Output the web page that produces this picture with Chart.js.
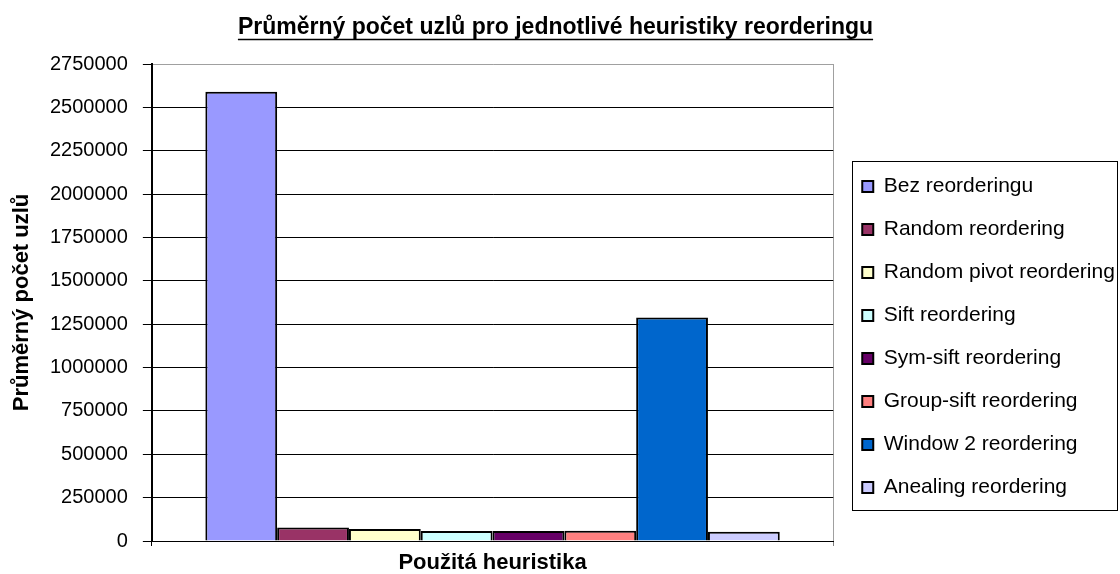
<!DOCTYPE html>
<html lang="cs">
<head>
<meta charset="utf-8">
<title>Průměrný počet uzlů</title>
<script src="https://cdn.jsdelivr.net/npm/chart.js@4.4.1/dist/chart.umd.min.js"></script>
<style>
    html, body { margin: 0; padding: 0; background: #fff; }
    #graf { display: block; }
</style>
</head>
<body>
<canvas id="graf" width="1120" height="574"></canvas>
<script>
'use strict';

// data
var heuristiky = ['Bez reorderingu', 'Random reordering', 'Random pivot reordering', 'Sift reordering',
                  'Sym-sift reordering', 'Group-sift reordering', 'Window 2 reordering', 'Anealing reordering'];
var prumerUzlu = [2590000, 78000, 69000, 57000, 57000, 59000, 1288000, 53000];
var barvy = ['#9999FF', '#993366', '#FFFFCC', '#CCFFFF', '#660066', '#FF8080', '#0066CC', '#CCCCFF'];
var osaYMax = 2750000;
var osaYKrok = 250000;

var nadpis = 'Průměrný počet uzlů pro jednotlivé heuristiky reorderingu';
var popisY = 'Průměrný počet uzlů';
var popisX = 'Použitá heuristika';

var PISMO = "'Liberation Sans', Arial, sans-serif";

Chart.defaults.color = '#000';
Chart.defaults.font.family = PISMO;

function getDataSets() {
    return heuristiky.map(function(nazev, i) {
        return {
            label: nazev,
            data: [prumerUzlu[i]],
            backgroundColor: barvy[i],
            borderColor: '#000',
            borderWidth: 2,
            categoryPercentage: 0.843,
            barPercentage: 1.0
        };
    });
}

// underline under the chart title, like in Excel
var podtrzeniNadpisu = {
    id: 'podtrzeniNadpisu',
    afterDraw: function(chart) {
        var t = chart.titleBlock;
        if (!t) { return; }
        var ctx = chart.ctx;
        var f = Chart.helpers.toFont(t.options.font);
        ctx.save();
        ctx.font = f.string;
        var w = ctx.measureText(nadpis).width;
        var cx = (t.left + t.right) / 2;
        var y = Math.round(t.top + t.options.padding.top + f.lineHeight / 2 + f.size * 0.5) + 0.5;
        ctx.strokeStyle = '#000';
        ctx.lineWidth = 1.5;
        ctx.beginPath();
        ctx.moveTo(cx - w / 2, y);
        ctx.lineTo(cx + w / 2, y);
        ctx.stroke();
        ctx.restore();
    }
};

// nudge the legend like Excel places it and draw the frame round it
var LEGENDA_DX = 7, LEGENDA_DY = 50;
var ramecekLegendy = {
    id: 'ramecekLegendy',
    afterLayout: function(chart) {
        var lg = chart.legend;
        lg.left += LEGENDA_DX;
        lg.right += LEGENDA_DX;
        lg.top += LEGENDA_DY;
        lg.bottom += LEGENDA_DY;
    },
    afterDraw: function(chart) {
        var lg = chart.legend;
        var boxy = lg.legendHitBoxes;
        if (!boxy || !boxy.length) { return; }
        var prvni = boxy[0], posledni = boxy[boxy.length - 1];
        var pravo = 0;
        boxy.forEach(function(b) { pravo = Math.max(pravo, b.left + b.width); });
        var x0 = Math.round(prvni.left - 10) + 0.5;
        var y0 = Math.round(prvni.top - 15) + 0.5;
        var x1 = Math.round(Math.min(pravo + 2, chart.width - 3)) + 0.5;
        var y1 = Math.round(posledni.top + posledni.height + 12) + 0.5;
        var ctx = chart.ctx;
        ctx.save();
        ctx.strokeStyle = '#000';
        ctx.lineWidth = 1;
        ctx.strokeRect(x0, y0, x1 - x0, y1 - y0);
        ctx.restore();
    }
};

var chart = new Chart(document.getElementById('graf'), {
    type: 'bar',
    data: {
        labels: [''],
        datasets: getDataSets()
    },
    plugins: [podtrzeniNadpisu, ramecekLegendy],
    options: {
        responsive: false,
        animation: false,
        devicePixelRatio: 1,
        layout: {
            padding: { left: 0, right: 9, top: 0, bottom: 0 }
        },
        plugins: {
            title: {
                display: true,
                text: nadpis,
                font: { size: 23, weight: 'bold', lineHeight: 1 },
                padding: { top: 16, bottom: 25 }
            },
            legend: {
                position: 'right',
                labels: {
                    boxWidth: 11,
                    boxHeight: 11,
                    padding: 22,
                    font: { size: 21 }
                }
            },
            tooltip: { enabled: false }
        },
        scales: {
            x: {
                offset: true,
                grid: {
                    offset: true,
                    drawOnChartArea: true,
                    drawTicks: true,
                    tickLength: 5,
                    color: function(c) { return c.index === 0 ? '#000' : '#a0a0a0'; },
                    tickColor: function(c) { return c.index === 0 ? '#000' : '#808080'; }
                },
                border: { color: '#000', width: 1 },
                ticks: { display: false },
                title: {
                    display: true,
                    text: popisX,
                    font: { size: 22, weight: 'bold', lineHeight: 1 },
                    padding: { top: 6, bottom: 0 }
                }
            },
            y: {
                min: 0,
                max: osaYMax,
                grid: {
                    color: function(c) { return c.tick && c.tick.value === osaYMax ? '#a0a0a0' : '#000'; },
                    tickColor: '#000',
                    tickLength: 9
                },
                border: { color: '#000', width: 2 },
                ticks: {
                    stepSize: osaYKrok,
                    padding: 15,
                    font: { size: 20 },
                    callback: function(v) { return String(v); }
                },
                title: {
                    display: true,
                    text: popisY,
                    font: { size: 22, weight: 'bold', lineHeight: 1 },
                    padding: { top: 11, bottom: 2 }
                }
            }
        }
    }
});
</script>
</body>
</html>
